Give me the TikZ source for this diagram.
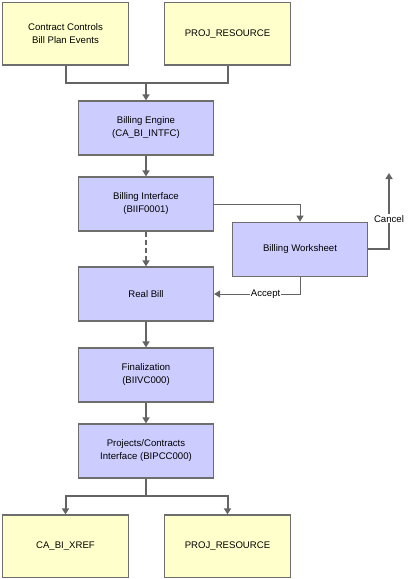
\documentclass[tikz,border=0pt]{standalone}
\usepackage{fontspec}
\setmainfont{Liberation Sans}
\usetikzlibrary{arrows.meta}
\definecolor{boxline}{RGB}{110,110,110}
\definecolor{lineg}{RGB}{100,100,100}
\definecolor{yel}{RGB}{255,255,204}
\definecolor{blu}{RGB}{204,204,255}
\tikzset{
  base/.style={draw=boxline, line width=1.2pt, align=center, inner sep=0pt, font=\fontsize{9.6}{13}\selectfont},
  ybox/.style={base, fill=yel, minimum width=126pt, minimum height=62.5pt},
  bbox/.style={base, fill=blu, minimum width=135pt, minimum height=54pt},
  thick line/.style={draw=lineg, line width=2pt},
  thin line/.style={draw=lineg, line width=1pt},
  arr/.style={-{Triangle[length=6pt,width=7pt]}},
  lbl/.style={fill=white, inner sep=1pt, font=\fontsize{9.6}{11}\selectfont}
}
\begin{document}
\begin{tikzpicture}[x=1pt,y=-1pt]
\useasboundingbox (0,0) rectangle (415,579);
\node[ybox] (cc) at (65.5,33.75) {Contract Controls\\Bill Plan Events};
\node[ybox] (pr1) at (227.5,33.75) {PROJ\_RESOURCE};
\node[bbox] (be) at (146,128) {Billing Engine\\(CA\_BI\_INTFC)};
\node[bbox] (bi) at (146,204) {Billing Interface\\(BIIF0001)};
\node[bbox] (rb) at (146,294) {Real Bill};
\node[bbox] (fin) at (146,375) {Finalization\\(BIIVC000)};
\node[bbox] (pc) at (146,451) {Projects/Contracts\\Interface (BIPCC000)};
\node[ybox] (xref) at (65.5,546.25) {CA\_BI\_XREF};
\node[ybox] (pr2) at (227.5,546.25) {PROJ\_RESOURCE};
\node[bbox] (bw) at (300,249.3) {Billing Worksheet};
\coordinate (j1) at (146,83);
\coordinate (j2) at (146,496);
\coordinate (ce) at (389,173);

\draw[thick line] (cc.south) |- (j1) -| (pr1.south);
\draw[thick line, arr] (j1) -- (be.north);
\draw[thick line, arr] (be.south) -- (bi.north);
\draw[thick line, arr, dashed, dash pattern=on 5pt off 3pt] (bi.south) -- (rb.north);
\draw[thick line, arr] (rb.south) -- (fin.north);
\draw[thick line, arr] (fin.south) -- (pc.north);
\draw[thick line] (pc.south) -- (j2);
\draw[thick line, arr] (j2) -| (xref.north);
\draw[thick line, arr] (j2) -| (pr2.north);
\draw[thin line, arr] (bi.east) -| (bw.north);
\draw[thin line, arr] (bw.south) |- node[lbl, pos=0.7] {Accept} (rb.east);
\draw[thick line, arr] (bw.east) -| node[lbl, pos=0.7] {Cancel} (ce);
\end{tikzpicture}
\end{document}
